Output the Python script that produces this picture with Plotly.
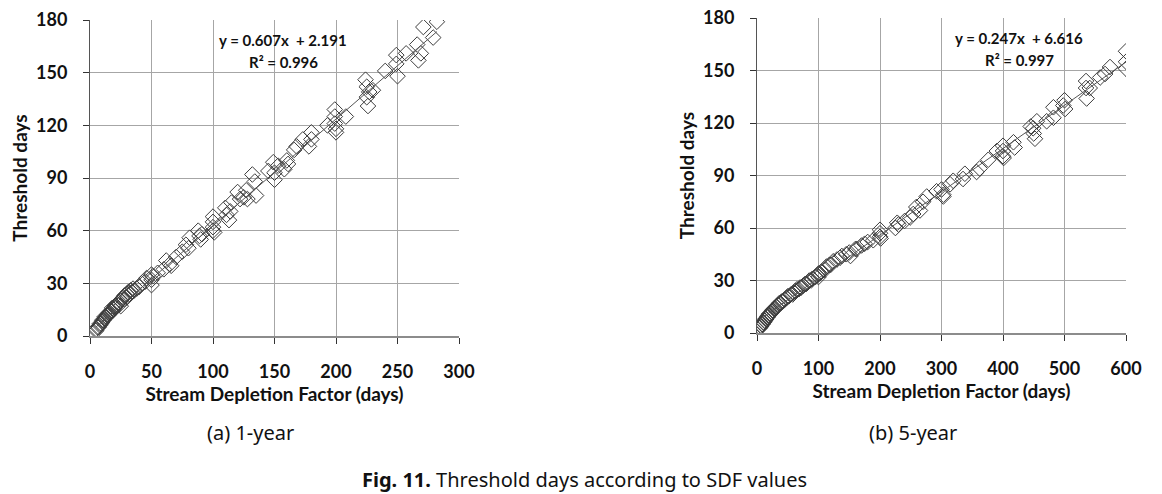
import plotly.graph_objects as go

# ---------------- data ----------------
sdf_1yr = [5,5,6,7,8,8,9,10,10,11,12,12,13,14,15,15,16,17,18,18,19,20,20,21,22,23,24,25,25,26,27,28,28,30,30,31,32,33,34,35,36,38,40,42,45,46,50,50,50,51,55,60,62,65,66,70,75,78,80,81,88,89,90,91,100,100,100,100,101,110,111,113,114,115,120,122,125,127,128,132,134,135,145,149,150,150,153,158,160,161,166,168,173,178,180,180,193,199,199,199,200,200,208,224,225,225,226,227,230,240,249,249,250,257,266,267,269,271,279,282]
thr_1yr = [4,3,5,5,6,7,7,8,9,9,10,11,11,12,12,13,13,14,14,16,15,16,17,17,18,19,18,20,17,21,22,21,23,22,24,25,24,26,25,27,26,27,28,30,31,33,32,29,35,34,36,38,43,41,40,45,48,52,50,56,60,57,55,58,68,65,62,60,59,73,69,66,71,76,82,78,79,83,78,92,88,80,94,99,93,89,97,95,100,98,106,108,112,108,116,112,120,129,125,121,118,116,125,146,142,136,131,139,140,151,160,155,148,161,166,157,161,176,170,179]

sdf_5yr = [5,6,7,8,9,10,11,12,13,14,15,16,17,18,19,20,22,24,25,26,28,30,32,34,35,36,38,40,42,45,48,50,52,55,58,60,62,65,68,70,72,75,78,80,85,88,90,95,98,100,100,102,105,110,113,118,120,124,130,135,138,145,150,152,160,162,170,175,180,189,200,200,200,201,225,228,230,240,249,254,259,265,270,276,292,300,303,303,314,319,335,338,357,362,376,390,400,400,400,401,417,419,445,449,450,452,455,471,482,482,498,500,501,535,535,536,541,558,566,574,600,600,600]
thr_5yr = [3,4,4,5,5,6,6,7,7,8,8,9,9,10,10,11,11,12,13,13,14,14,15,16,16,17,17,18,18,19,20,21,21,22,22,23,24,25,25,26,26,27,28,28,30,30,31,32,33,34,32,34,35,36,38,39,39,41,42,43,44,45,46,44,48,48,50,51,52,53,59,57,55,54,60,63,62,64,66,68,72,70,75,78,81,82,79,78,85,87,88,91,92,94,99,104,107,104,101,100,109,106,118,117,114,111,121,121,129,123,130,133,128,144,140,134,140,146,148,152,161,155,151]

# trendline coefficients shown on the chart and fitted x-range
fit_1yr = {"slope": 0.607, "intercept": 2.191, "x": [5, 282]}
fit_5yr = {"slope": 0.247, "intercept": 6.616, "x": [5, 600]}

eq_1yr = ["y = 0.607x  + 2.191", "R² = 0.996"]
eq_5yr = ["y = 0.247x  + 6.616", "R² = 0.997"]

x_ticks_1 = [0, 50, 100, 150, 200, 250, 300]
x_ticks_5 = [0, 100, 200, 300, 400, 500, 600]
y_ticks = [0, 30, 60, 90, 120, 150, 180]

captions = ["(a) 1-year", "(b) 5-year"]
fig_caption_bold = "Fig. 11."
fig_caption_rest = " Threshold days according to SDF values"

# ---------------- figure ----------------
W, H = 1162, 494
FONT = "Lato, Open Sans, sans-serif"
MARK = "#3c3c3c"
GRID = "#a6a6a6"

fig = go.Figure()

def add_panel(xs, ys, fit, xa, ya):
    fig.add_trace(go.Scatter(
        x=xs, y=ys, mode="markers", xaxis=xa, yaxis=ya,
        marker=dict(symbol="diamond-open", size=12, color=MARK,
                    line=dict(width=1, color=MARK)),
        showlegend=False, hoverinfo="x+y"))
    fx = fit["x"]
    fy = [fit["slope"] * v + fit["intercept"] for v in fx]
    fig.add_trace(go.Scatter(
        x=fx, y=fy, mode="lines", xaxis=xa, yaxis=ya,
        line=dict(color="#555555", width=1),
        showlegend=False, hoverinfo="skip"))

add_panel(sdf_1yr, thr_1yr, fit_1yr, "x", "y")
add_panel(sdf_5yr, thr_5yr, fit_5yr, "x2", "y2")

# page-pixel -> paper fraction
def px_x(p):
    return p / W

def px_y(p):
    return (H - p) / H

tickfont = dict(family=FONT, size=18, color="#111111")
titlefont = dict(family=FONT, size=19, color="#111111")

def xaxis(ticks, rng, dom, anchor):
    return dict(
        domain=dom, anchor=anchor, range=rng, tickmode="array",
        tickvals=ticks, ticktext=["<b>%d</b>" % t for t in ticks],
        showgrid=True, gridcolor=GRID, gridwidth=1, automargin=False,
        zeroline=False, showline=True, linecolor="#8c8c8c", linewidth=2,
        ticks="outside", ticklen=6, tickcolor="#333333", tickwidth=1,
        tickfont=tickfont, ticklabelstandoff=12,
        title=dict(text="<b>Stream Depletion Factor (days)</b>", font=titlefont, standoff=6),
    )

def yaxis(rng, dom, anchor):
    return dict(
        domain=dom, anchor=anchor, range=rng, tickmode="array",
        tickvals=y_ticks, ticktext=["<b>%d</b>" % t for t in y_ticks],
        showgrid=True, gridcolor=GRID, gridwidth=1, automargin=False,
        zeroline=False, showline=True, linecolor="#555555", linewidth=1,
        ticks="outside", ticklen=6, tickcolor="#333333", tickwidth=1,
        tickfont=tickfont, ticklabelstandoff=12,
        title=dict(text="<b>Threshold days</b>", font=titlefont, standoff=3),
    )

fig.update_layout(
    width=W, height=H,
    margin=dict(l=0, r=0, t=0, b=0, autoexpand=False),
    paper_bgcolor="white", plot_bgcolor="white",
    font=dict(family=FONT, color="#111111"),
    xaxis=xaxis(x_ticks_1, [0, 300], [px_x(90), px_x(459)], "y"),
    yaxis=yaxis([0, 180], [px_y(336), px_y(20)], "x"),
    xaxis2=xaxis(x_ticks_5, [0, 600], [px_x(757), px_x(1126)], "y2"),
    yaxis2=yaxis([0, 180], [px_y(333), px_y(18)], "x2"),
)

# equations
eqfont = dict(family=FONT, size=15, color="#111111")
for (cx, y1, y2, eq) in [(283, 40, 62, eq_1yr), (1019, 38, 60, eq_5yr)]:
    fig.add_annotation(x=px_x(cx), y=px_y(y1), xref="paper", yref="paper",
                       text="<b>" + eq[0] + "</b>", showarrow=False,
                       xanchor="center", yanchor="middle", font=eqfont)
    fig.add_annotation(x=px_x(cx), y=px_y(y2), xref="paper", yref="paper",
                       text="<b>" + eq[1] + "</b>", showarrow=False,
                       xanchor="center", yanchor="middle", font=eqfont)

capfont = dict(family="Noto Sans", size=20, color="#111111")
for cx, txt in zip([250, 913], captions):
    fig.add_annotation(x=px_x(cx), y=px_y(432), xref="paper", yref="paper",
                       text=txt, showarrow=False, xanchor="center",
                       yanchor="middle", font=capfont)
fig.add_annotation(x=px_x(585), y=px_y(479), xref="paper", yref="paper",
                   text="<b>" + fig_caption_bold + "</b>" + fig_caption_rest,
                   showarrow=False, xanchor="center", yanchor="middle",
                   font=capfont)

fig.write_html(
    "out.html",
    config={"displayModeBar": False},
    post_script="document.body.style.margin='0';document.body.style.overflow='hidden';",
)
